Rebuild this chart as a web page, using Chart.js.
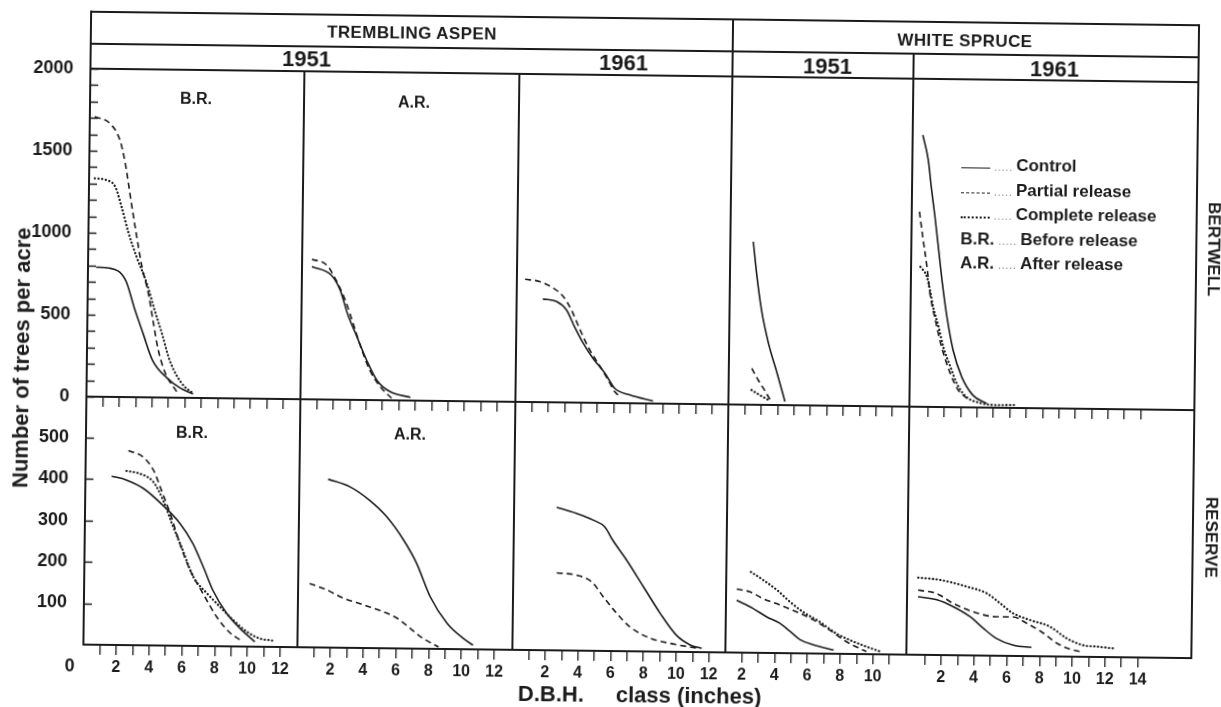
<!DOCTYPE html>
<html>
<head>
<meta charset="utf-8">
<script src="https://cdn.jsdelivr.net/npm/chart.js@4.4.1/dist/chart.umd.min.js"></script>
<style>
html, body { margin: 0; background: #fff; }
#page { position: relative; width: 1221px; height: 707px; overflow: hidden;
  transform: rotate(0.7deg); transform-origin: 610px 353px;
  font-family: "Liberation Sans", Arial, Helvetica, sans-serif; font-weight: bold; color: #1b1b1b; }
canvas { position: absolute; }
.ln { position: absolute; background: #1b1b1b; }
.t { position: absolute; white-space: nowrap; line-height: 1; transform: translate(-50%, -50%); }
.tl { position: absolute; white-space: nowrap; line-height: 1; transform: translate(0, -50%); }
.lg { position: absolute; display: flex; align-items: center; height: 20px; font-size: 17px; white-space: nowrap; }
.smp { display: inline-block; width: 29px; margin-top: 5px; }
.lead { font-size: 10px; font-weight: normal; color: #777; letter-spacing: 1px; margin: 3px 3px 0 4px; }
</style>
</head>
<body>
<div id="page"></div>
<script>
// number of trees per acre by D.B.H. class as [dbh, trees] pairs
// Bertwell, trembling aspen
const aspen51BrBertControl = [[0.5,790],[1.3,785],[2.3,713],[2.9,530],[3.4,391],[4.0,227],[4.9,120],[5.7,60],[6.5,24]];
const aspen51BrBertPartial = [[0.3,1707],[1.2,1670],[1.85,1567],[2.2,1423],[2.5,1242],[2.85,1035],[3.3,791],[3.7,634],[4.0,470],[4.35,288],[4.8,147],[5.5,37]];
const aspen51BrBertComplete = [[0.35,1332],[1.05,1322],[1.6,1282],[2.0,1160],[2.45,1000],[2.95,857],[3.6,694],[4.1,530],[4.55,393],[5.05,227],[5.8,88],[6.5,28]];
const aspen51ArBertControl = [[0.6,809],[1.8,758],[2.35,667],[2.8,526],[3.4,385],[4.0,244],[4.65,121],[5.45,53],[6.7,20]];
const aspen51ArBertPartial = [[0.6,854],[1.5,820],[2.1,726],[2.65,609],[3.15,468],[3.7,306],[4.2,184],[4.85,83],[5.55,13]];
const aspen61BertControl = [[1.6,629],[2.45,614],[3.05,564],[3.55,463],[4.1,362],[4.7,271],[5.45,180],[6.05,90],[7.0,50],[8.4,15]];
const aspen61BertPartial = [[0.5,748],[1.4,735],[2.25,695],[2.85,645],[3.35,564],[3.9,443],[4.5,322],[5.15,221],[5.65,140],[6.05,70],[6.4,39]];
// Bertwell, white spruce
const spruce51BertControl = [[2.4,994],[2.65,781],[2.95,579],[3.4,376],[3.95,194],[4.45,21]];
const spruce51BertPartial = [[2.4,222],[2.8,151],[3.25,81],[3.55,30]];
const spruce51BertComplete = [[2.4,90],[2.9,60],[3.45,30]];
const spruce61BertControl = [[0.5,1657],[0.85,1505],[1.05,1343],[1.3,1160],[1.55,958],[1.8,755],[2.1,552],[2.5,349],[3.05,185],[3.75,74],[4.6,25]];
const spruce61BertPartial = [[0.35,1190],[0.6,1017],[0.85,854],[1.05,693],[1.4,530],[1.8,368],[2.35,205],[2.85,104],[3.4,54]];
const spruce61BertComplete = [[0.45,854],[0.85,794],[1.05,713],[1.25,611],[1.6,490],[1.9,368],[2.35,246],[2.75,145],[3.35,64],[4.2,28],[5.2,16],[6.4,18]];
// Reserve, trembling aspen
const aspen51BrResControl = [[1.6,407],[2.5,398],[3.55,378],[4.75,338],[5.8,295],[6.6,247],[7.25,191],[7.85,135],[8.7,80],[9.55,43],[10.45,12]];
const aspen51BrResPartial = [[2.6,469],[3.5,454],[4.15,422],[4.65,374],[5.2,318],[5.8,247],[6.45,183],[7.25,127],[8.1,71],[8.95,32],[9.55,16]];
const aspen51BrResComplete = [[2.5,420],[3.3,414],[4.15,394],[4.75,351],[5.3,295],[5.9,239],[6.65,167],[7.5,127],[8.3,95],[9.1,64],[9.95,36],[10.75,20],[11.6,15]];
const aspen51ArResControl = [[1.75,406],[3.1,388],[4.3,356],[5.35,317],[6.4,261],[7.2,206],[8.05,126],[9.1,62],[10.1,26],[10.7,10]];
const aspen51ArResPartial = [[0.7,154],[1.75,139],[2.75,120],[4.0,104],[5.2,88],[6.05,73],[6.85,49],[7.65,25],[8.6,5]];
const aspen61ResControl = [[2.6,345],[3.8,331],[4.85,315],[5.55,299],[6.05,267],[6.9,220],[7.95,156],[9.0,92],[10.0,40],[10.85,17],[11.55,9]];
const aspen61ResPartial = [[2.65,187],[3.85,182],[4.8,166],[5.5,131],[6.25,95],[7.15,59],[8.4,32],[9.8,19],[11.35,9]];
// Reserve, white spruce
const spruce51ResControl = [[1.65,126],[2.65,107],[3.5,87],[4.3,72],[4.95,52],[5.55,33],[6.35,21],[7.6,9]];
const spruce51ResPartial = [[1.65,153],[2.45,147],[3.25,131],[4.3,116],[5.3,100],[6.35,81],[7.35,57],[8.4,29],[9.6,6]];
const spruce51ResComplete = [[2.5,195],[3.25,176],[4.1,152],[4.9,124],[5.7,100],[6.75,76],[7.75,49],[8.8,30],[9.6,18],[10.5,6]];
const spruce61ResControl = [[0.55,140],[1.7,133],[2.7,117],[3.75,93],[4.55,66],[5.35,42],[6.4,26],[7.5,21]];
const spruce61ResPartial = [[0.55,156],[1.7,148],[2.7,125],[3.95,105],[5.35,94],[6.35,94],[7.2,79],[8.1,59],[9.05,32],[9.85,18],[10.55,12]];
const spruce61ResComplete = [[0.55,186],[1.9,181],[3.5,166],[4.75,150],[5.55,127],[6.35,103],[7.4,87],[8.6,72],[9.65,44],[10.65,28],[11.5,25],[12.5,21]];

// axis ticks and labels
const aspenDbhTicks = [1,2,3,4,5,6,7,8,9,10,11,12];
const aspenDbhLabels = [2,4,6,8,10,12];
const spruce51DbhTicks = [2,3,4,5,6,7,8,9,10,11];
const spruce51DbhLabels = [2,4,6,8,10];
const spruce61DbhTicks = [1,2,3,4,5,6,7,8,9,10,11,12,13,14];
const spruce61DbhLabels = [2,4,6,8,10,12,14];
const bertTreeTicks = [0,100,200,300,400,500,600,700,800,900,1000,1100,1200,1300,1400,1500,1600,1700,1800,1900,2000];
const bertTreeLabels = [0,500,1000,1500,2000];
const resTreeTicks = [100,200,300,400,500];
const resTreeLabels = [100,200,300,400,500];

const INK = '#1b1b1b';
const FONT = '"Liberation Sans", Arial, Helvetica, sans-serif';
const page = document.getElementById('page');

// panel frame (columns in px, rows in px)
const cols = [
  {x0: 87,  x1: 301,  min: 0,     max: 13.05, ticks: aspenDbhTicks,    labels: aspenDbhLabels},
  {x0: 301, x1: 516,  min: 0,     max: 13.1,  ticks: aspenDbhTicks,    labels: aspenDbhLabels},
  {x0: 516, x1: 729,  min: 0,     max: 13.0,  ticks: aspenDbhTicks,    labels: aspenDbhLabels},
  {x0: 729, x1: 910,  min: 1,     max: 12.04, ticks: spruce51DbhTicks, labels: spruce51DbhLabels},
  {x0: 910, x1: 1195, min: -0.12, max: 17.26, ticks: spruce61DbhTicks, labels: spruce61DbhLabels}
];
const rows = [
  {y0: 75,  y1: 403, max: 2000, ticks: bertTreeTicks, labels: bertTreeLabels, xh: 24},
  {y0: 403, y1: 651, max: 598,  ticks: resTreeTicks,  labels: resTreeLabels,  xh: 38}
];

const styles = {
  control:  {borderDash: [], borderWidth: 1.6},
  partial:  {borderDash: [6, 4], borderWidth: 1.6},
  complete: {borderDash: [0.1, 3.6], borderWidth: 2.3, borderCapStyle: 'round'}
};

// y ticks in the figure point into the plot
const inTicks = {
  id: 'inTicks',
  afterDraw(chart, args, opts) {
    if (!opts.on) return;
    const {ctx, chartArea: a, scales: {y}} = chart;
    ctx.save();
    ctx.strokeStyle = INK;
    ctx.lineWidth = 1.5;
    y.ticks.forEach(t => {
      const py = Math.round(y.getPixelForValue(t.value)) + 0.5;
      ctx.beginPath(); ctx.moveTo(a.left, py); ctx.lineTo(a.left + 8, py); ctx.stroke();
    });
    ctx.restore();
  }
};

function panel(ci, ri, series) {
  const c = cols[ci], r = rows[ri];
  const P = 14, PT = 24;
  const first = ci === 0;
  const yw = first ? c.x0 - P : 0;
  const cv = document.createElement('canvas');
  cv.width = c.x1 - c.x0 + 2 * P + yw;
  cv.height = r.y1 - r.y0 + PT + r.xh;
  cv.style.left = (c.x0 - P - yw) + 'px';
  cv.style.top = (r.y0 - PT) + 'px';
  page.appendChild(cv);

  const datasets = Object.keys(series).map(k => Object.assign({
    data: series[k].map(([x, y]) => ({x, y})),
    borderColor: INK, pointRadius: 0, fill: false,
    cubicInterpolationMode: 'monotone'
  }, styles[k]));

  new Chart(cv, {
    type: 'line',
    data: {datasets},
    options: {
      responsive: false, animation: false, events: [],
      layout: {padding: {left: P, right: P, top: PT, bottom: 0}},
      plugins: {legend: {display: false}, tooltip: {enabled: false}, inTicks: {on: first}},
      scales: {
        x: {
          type: 'linear', min: c.min, max: c.max,
          afterBuildTicks: s => { s.ticks = c.ticks.map(v => ({value: v})); },
          afterFit: s => { s.height = r.xh; },
          border: {display: false},
          grid: {drawOnChartArea: false, drawTicks: true, tickLength: 10, color: INK, lineWidth: 1.3},
          ticks: {display: ri === 1, autoSkip: false, maxRotation: 0, padding: 3, color: INK,
            font: {family: FONT, size: 16, weight: 'bold'},
            callback: v => c.labels.includes(v) ? String(v) : ''}
        },
        y: {
          type: 'linear', display: first, min: 0, max: r.max,
          afterBuildTicks: s => { s.ticks = r.ticks.map(v => ({value: v})); },
          afterFit: s => { s.width = yw; },
          border: {display: false},
          grid: {display: false},
          ticks: {autoSkip: false, padding: 9, color: INK, font: {family: FONT, size: 18, weight: 'bold'},
            callback: v => r.labels.includes(v) ? String(v) : ''}
        }
      }
    },
    plugins: [inTicks]
  });
}

panel(0, 0, {control: aspen51BrBertControl, partial: aspen51BrBertPartial, complete: aspen51BrBertComplete});
panel(1, 0, {control: aspen51ArBertControl, partial: aspen51ArBertPartial});
panel(2, 0, {control: aspen61BertControl, partial: aspen61BertPartial});
panel(3, 0, {control: spruce51BertControl, partial: spruce51BertPartial, complete: spruce51BertComplete});
panel(4, 0, {control: spruce61BertControl, partial: spruce61BertPartial, complete: spruce61BertComplete});
panel(0, 1, {control: aspen51BrResControl, partial: aspen51BrResPartial, complete: aspen51BrResComplete});
panel(1, 1, {control: aspen51ArResControl, partial: aspen51ArResPartial});
panel(2, 1, {control: aspen61ResControl, partial: aspen61ResPartial});
panel(3, 1, {control: spruce51ResControl, partial: spruce51ResPartial, complete: spruce51ResComplete});
panel(4, 1, {control: spruce61ResControl, partial: spruce61ResPartial, complete: spruce61ResComplete});

// frame lines
function hline(x0, x1, y, w) {
  const d = document.createElement('div'); d.className = 'ln';
  d.style.cssText = `left:${x0}px;top:${y - w / 2}px;width:${x1 - x0}px;height:${w}px`;
  page.appendChild(d);
}
function vline(x, y0, y1, w) {
  const d = document.createElement('div'); d.className = 'ln';
  d.style.cssText = `left:${x - w / 2}px;top:${y0}px;width:${w}px;height:${y1 - y0}px`;
  page.appendChild(d);
}
hline(87, 1195, 18, 1.8); hline(87, 1195, 50, 1.5); hline(87, 1195, 75, 1.5);
hline(87, 1196, 403, 2); hline(86, 1196, 651, 2);
vline(87, 17, 652, 2); vline(1195, 17, 652, 1.8); vline(729, 18, 651, 1.6);
vline(910, 50, 651, 1.5); vline(301, 75, 651, 1.5); vline(516, 75, 651, 1.5);

// text
function text(s, x, y, size, extra) {
  const d = document.createElement('div'); d.className = 't';
  d.textContent = s;
  d.style.cssText = `left:${x}px;top:${y}px;font-size:${size}px;` + (extra || '');
  page.appendChild(d);
}
text('TREMBLING ASPEN', 408, 34.5, 17, 'letter-spacing:0.4px');
text('WHITE SPRUCE', 961, 35.5, 17, 'letter-spacing:0.4px');
text('1951', 303, 62.5, 22);
text('1961', 620, 63, 22);
text('1951', 824, 63.5, 22);
text('1961', 1051, 64, 22);
text('B.R.', 193, 104, 16);
text('A.R.', 411, 105, 16);
text('B.R.', 193, 437.5, 16);
text('A.R.', 411, 436.5, 16);
text('0', 73.5, 671.5, 18);
text('BERTWELL', 1212, 242, 17, 'transform:translate(-50%,-50%) rotate(90deg)');
text('RESERVE', 1213, 530, 17, 'transform:translate(-50%,-50%) rotate(90deg)');
text('Number of trees per acre', 22, 365, 22, 'transform:translate(-50%,-50%) rotate(-90deg)');

const xt = document.createElement('div'); xt.className = 'tl';
xt.style.cssText = 'left:522px;top:695px;font-size:22px';
xt.innerHTML = 'D.B.H.<span style="margin-left:32px">class (inches)</span>';
page.appendChild(xt);

// legend
const legendRows = [
  ['line', 'solid', 'Control'],
  ['line', 'dashed', 'Partial release'],
  ['line', 'dotted', 'Complete release'],
  ['abbr', 'B.R.', 'Before release'],
  ['abbr', 'A.R.', 'After release']
];
legendRows.forEach((row, i) => {
  const d = document.createElement('div'); d.className = 'lg';
  d.style.left = '959px';
  d.style.top = (151 + i * 24.5) + 'px';
  let head;
  if (row[0] === 'line') {
    const w = row[1] === 'dotted' ? 2 : 1.6;
    head = `<span class="smp" style="border-top:${w}px ${row[1]} ${INK}"></span>`;
  } else {
    head = `<span>${row[1]}</span>`;
  }
  d.innerHTML = head + '<span class="lead">.....</span><span>' + row[2] + '</span>';
  page.appendChild(d);
});
</script>
</body>
</html>
